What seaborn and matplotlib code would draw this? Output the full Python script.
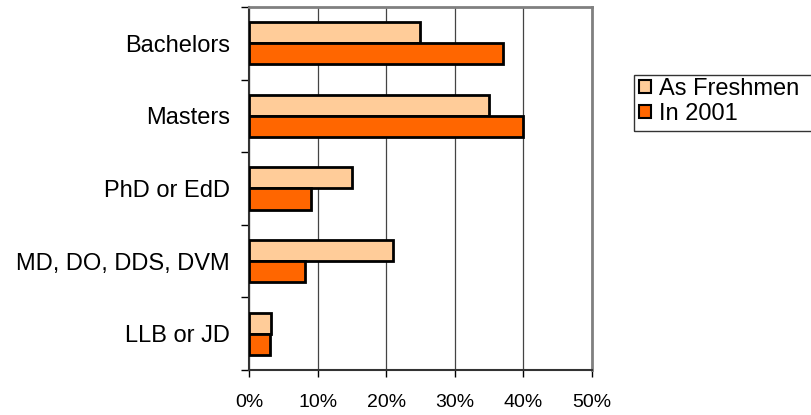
import matplotlib
matplotlib.use("Agg")
import matplotlib.pyplot as plt
import matplotlib.patches as mpatches
import seaborn as sns
import pandas as pd
import numpy as np
from matplotlib.ticker import FixedLocator, PercentFormatter

categories = ["Bachelors", "Masters", "PhD or EdD", "MD, DO, DDS, DVM", "LLB or JD"]
as_freshmen = [25, 35, 15, 21, 3.2]
in_2001 = [37, 40, 9, 8.2, 3]
series_names = ["As Freshmen", "In 2001"]
colors = ["#FFCC99", "#FF6600"]

df = pd.DataFrame({
    "Degree": categories * 2,
    "Value": as_freshmen + in_2001,
    "Series": [series_names[0]] * len(categories) + [series_names[1]] * len(categories),
})

sns.set_style("white")
plt.rcParams["font.family"] = ["Liberation Sans", "DejaVu Sans"]

fig = plt.figure(figsize=(8.12, 4.15), dpi=100)
ax = fig.add_axes([249/812, 45/415, (592-249)/812, (370-7)/415])

sns.barplot(data=df, y="Degree", x="Value", hue="Series", order=categories,
            hue_order=series_names, palette=colors, saturation=1, orient="h",
            width=0.58, edgecolor="black", linewidth=2, ax=ax, legend=True, zorder=3)

ax.set_xlim(0, 50)
ax.set_ylim(len(categories) - 0.5, -0.5)
ax.xaxis.set_major_locator(FixedLocator([0, 10, 20, 30, 40, 50]))
ax.xaxis.set_major_formatter(PercentFormatter(decimals=0))
ax.grid(axis="x", color="#444444", linewidth=0.9, zorder=0)
ax.set_axisbelow(True)
ax.set_xlabel("")
ax.set_ylabel("")

ax.yaxis.set_minor_locator(FixedLocator(np.arange(-0.5, len(categories), 1)))
ax.tick_params(axis="y", which="major", length=0, pad=13.5, labelsize=17, labelcolor="black")
ax.tick_params(axis="y", which="minor", length=5.5, width=1, color="black", direction="out", left=True)
ax.tick_params(axis="x", which="major", length=5, width=1, color="black", direction="out",
               bottom=True, pad=12, labelsize=14, labelcolor="black")

for side in ["top", "right"]:
    ax.spines[side].set_color("#808080")
    ax.spines[side].set_linewidth(2)
for side in ["left", "bottom"]:
    ax.spines[side].set_color("#333333")
    ax.spines[side].set_linewidth(1.5)

leg = ax.legend(loc="upper left", bbox_to_anchor=(636/812, 1 - 75/415),
                bbox_transform=fig.transFigure, frameon=False,
                fontsize=17, handlelength=0.5, handleheight=0.5,
                handletextpad=0.35, borderpad=0.12, labelspacing=0.12, borderaxespad=0)
for h in leg.legend_handles:
    h.set_edgecolor("black")
    h.set_linewidth(1.5)
for t in leg.get_texts():
    t.set_color("black")

# legend frame running off the right edge, as in the reference
fig.add_artist(mpatches.Rectangle((634/812, (415-131)/415), (840-634)/812, 56/415,
                                  transform=fig.transFigure, fill=False,
                                  edgecolor="#333333", linewidth=1, clip_on=False))

fig.savefig("out.png", dpi=100)
